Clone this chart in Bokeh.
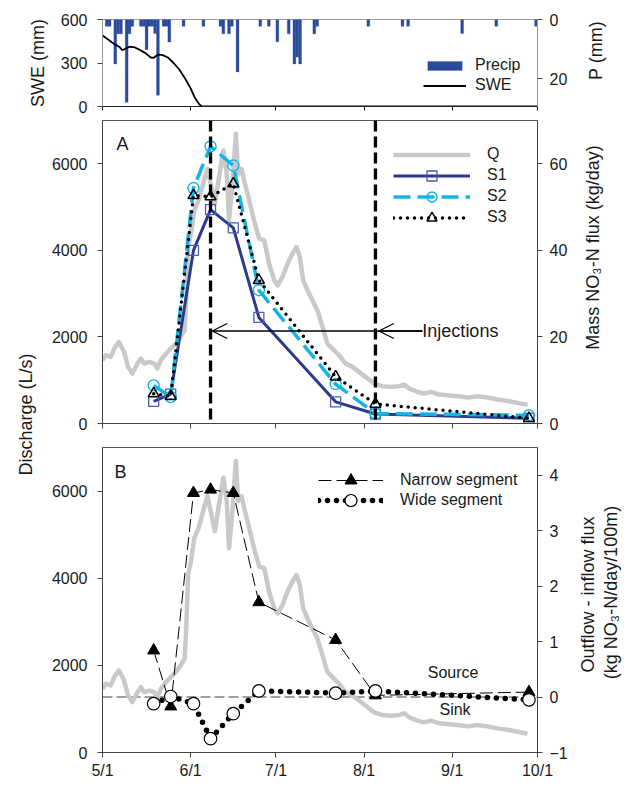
import math
from bokeh.plotting import figure
from bokeh.models import (Range1d, LinearAxis, FixedTicker, Span, Arrow, OpenHead,
                          Label, Legend, LegendItem)
from bokeh.layouts import column, row
from bokeh.embed import file_html
from bokeh.resources import INLINE

FONT = "Liberation Sans"
TXT = "#1a1a1a"

# ---------------- data ----------------
# x = days since May 1
month_ticks = [0, 31, 61, 92, 123, 153]
month_labels = ["5/1", "6/1", "7/1", "8/1", "9/1", "10/1"]

precip_day = [1, 2, 4, 5, 6, 8, 9, 10, 13, 14, 15, 16, 17, 18, 19, 21, 22, 23, 28, 35,
              41, 42, 44, 45, 47, 55, 58, 61, 65, 67, 68, 69, 74, 75, 93, 105, 107, 126, 138, 152]
precip_mm = [2.3, 2.3, 15.0, 4.8, 4.8, 28.0, 4.8, 2.3, 2.3, 2.3, 10.2, 2.3, 2.3, 4.7, 25.6, 2.3, 2.3, 7.6, 2.3, 2.3,
             2.3, 4.8, 4.8, 2.3, 17.7, 2.3, 2.3, 7.5, 4.8, 15.0, 12.7, 15.0, 4.8, 2.3, 2.3, 2.3, 2.3, 4.7, 2.3, 2.3]

swe_day = [0, 2, 4, 6, 7, 8, 9.5, 11, 13, 15, 17, 18, 19.5, 21, 23, 25, 27, 29, 31, 32.5, 34, 35, 153]
swe_mm = [490, 462, 432, 410, 388, 398, 412, 410, 392, 370, 338, 336, 358, 356, 338, 300, 255, 195, 125, 60, 15, 0, 0]

q_day = [0, 1.2, 2.9, 4.3, 5.8, 7.6, 9.0, 10.5, 12.3, 13.5, 14.6, 16.4, 18.2, 19.3, 20.5, 21.9, 24, 25.8,
         27.5, 28.9, 29.5, 30.1, 31.1, 32.3, 34.0, 35.7, 36.9, 38.3, 39.5, 41.0, 42.5, 43.7, 44.5, 45.7,
         46.9, 47.7, 48.9, 50.1, 51.6, 53.3, 55.1, 56.9, 58.6, 60.4, 61.6, 63.3, 65.1, 66.8, 68.2, 69.4,
         70.6, 72.1, 73.8, 75.6, 77.4, 79.1, 80.9, 83.2, 85.5, 87.9, 90.2, 92.5, 95.5, 98.4, 101.4, 104.3,
         106.1, 107.9, 110.8, 113.1, 115.5, 118.4, 121.3, 124.9, 128.4, 131.9, 135.4, 138.9, 142.4, 146.0, 149.5]
q_ls = [1461, 1577, 1538, 1754, 1884, 1653, 1307, 1154, 1385, 1500, 1385, 1422, 1385, 1269, 1461, 1577, 1731, 1846,
        2000, 2154, 2923, 4077, 4385, 4923, 5192, 5615, 5885, 5461, 5077, 5692, 6308, 5769, 4692, 5538,
        6692, 5769, 5885, 5538, 5154, 4692, 4269, 4231, 3692, 3308, 3192, 3385, 3692, 3923, 4077, 3846,
        3308, 3077, 2846, 2615, 2231, 1846, 1731, 1577, 1385, 1308, 1192, 1077, 923, 862, 846, 862,
        900, 808, 731, 692, 731, 669, 654, 631, 600, 631, 600, 554, 523, 477, 431]

sample_day = [18, 24, 32, 38, 46, 55, 82, 96, 150]
s1_flux = [5.1, 6.8, 40.0, 49.4, 45.2, 24.5, 5.0, 2.2, 1.2]
s2_flux = [8.8, 6.1, 54.4, 64.0, 59.6, 30.8, 9.1, 2.3, 1.9]
s3_flux = [6.9, 6.3, 52.7, 52.4, 55.4, 33.1, 10.8, 4.5, 1.2]
narrow_seg = [0.84, -0.17, 3.68, 3.74, 3.68, 1.71, 1.03, 0.03, 0.09]
wide_seg = [-0.12, 0.01, -0.12, -0.75, -0.30, 0.11, 0.07, 0.11, -0.05]
injection_day = [38, 96]

# ---------------- helpers ----------------
def style_axis(ax, show_labels=True, standoff=8, color="#444444"):
    ax.axis_line_color = color
    ax.major_tick_line_color = color
    ax.major_tick_out = 5
    ax.major_tick_in = 0
    ax.minor_tick_line_color = None
    ax.major_label_text_font = FONT
    if show_labels:
        ax.major_label_text_color = TXT
        ax.major_label_text_font_size = "16px"
        ax.major_label_standoff = standoff
    else:
        ax.major_label_text_color = None
        ax.major_label_text_alpha = 0
        ax.major_label_text_font_size = "1px"
        ax.major_label_standoff = 0
    ax.axis_label_text_font = FONT
    ax.axis_label_text_font_style = "normal"
    ax.axis_label_text_font_size = "18px"
    ax.axis_label_text_color = TXT


def screen_label(p, x, y, text, size="18px", angle=0.0, align="center"):
    p.add_layout(Label(x=x, y=y, x_units="screen", y_units="screen", text=text,
                       angle=angle, text_align=align, text_baseline="middle",
                       text_font=FONT, text_font_size=size, text_color=TXT))


def label_fig(w, top, fh, bottom):
    # a blank figure whose frame has the same vertical structure as its neighbour
    f = figure(frame_width=w, frame_height=fh, x_range=Range1d(0, 1), y_range=Range1d(0, 1),
               output_backend="svg", toolbar_location=None,
               min_border_left=0, min_border_right=0, min_border_top=top, min_border_bottom=bottom,
               x_axis_location=None, y_axis_location=None)
    f.outline_line_color = None
    f.xgrid.visible = False
    f.ygrid.visible = False
    return f


def one_legend(p, label, renderers, x, y, gw, gh, lh):
    p.add_layout(Legend(items=[LegendItem(label=label, renderers=renderers)],
                        location=(x, y), glyph_width=gw, glyph_height=gh, label_height=lh,
                        spacing=0, label_standoff=17, padding=0, margin=0,
                        border_line_color=None, background_fill_alpha=0,
                        label_text_font=FONT, label_text_font_size="16px",
                        label_text_color=TXT))


x_range = Range1d(0, 153)
RB = 36   # right border of the plot figures

# ---------------- top panel ----------------
p1 = figure(frame_width=435, frame_height=87, x_range=x_range, y_range=Range1d(0, 600),
            output_backend="svg", toolbar_location=None,
            min_border_left=102, min_border_right=RB, min_border_top=19, min_border_bottom=13)
p1.extra_y_ranges = {"p": Range1d(29.4, 0)}
p1.xgrid.visible = False
p1.ygrid.visible = False
p1.outline_line_color = "#999999"

bars = p1.vbar(x=[d + 0.5 for d in precip_day], width=1.0, bottom=0, top=precip_mm,
               y_range_name="p", fill_color="#2A4A9B", line_color="#2A4A9B", line_width=0.3)
swe = p1.line(swe_day, swe_mm, line_color="black", line_width=1.8)

ax = p1.xaxis[0]
ax.ticker = FixedTicker(ticks=month_ticks)
style_axis(ax, show_labels=False, color="#222222")
ax.major_tick_out = 4
ay = p1.yaxis[0]
ay.ticker = FixedTicker(ticks=[0, 300, 600])
style_axis(ay, standoff=10, color="#999999")
ay.major_tick_line_color = "#444444"
ay.axis_label = "SWE (mm)"
ay.axis_label_standoff = 10
ayr = LinearAxis(y_range_name="p", ticker=FixedTicker(ticks=[0, 20]))
style_axis(ayr, standoff=7, color="#999999")
ayr.major_tick_line_color = "#444444"
p1.add_layout(ayr, "right")

leg1 = Legend(items=[LegendItem(label="Precip", renderers=[bars]),
                     LegendItem(label="SWE", renderers=[swe])],
              location=(321, 11), glyph_width=43, glyph_height=11, label_height=20, spacing=0,
              label_standoff=9, padding=0, margin=0, border_line_color=None,
              background_fill_alpha=0, label_text_font=FONT, label_text_font_size="16px",
              label_text_color=TXT)
p1.add_layout(leg1)

pR1 = label_fig(50, 19, 87, 13)
screen_label(pR1, 22, 56, "P (mm)", angle=math.pi / 2)

# ---------------- panel A ----------------
pA = figure(frame_width=435, frame_height=303, x_range=x_range, y_range=Range1d(0, 7000),
            output_backend="svg", toolbar_location=None,
            min_border_left=54, min_border_right=RB, min_border_top=1, min_border_bottom=11)
pA.extra_y_ranges = {"flux": Range1d(0, 70)}
pA.xgrid.visible = False
pA.ygrid.visible = False
pA.outline_line_color = "#555555"

qA = pA.line(q_day, q_ls, line_color="#C9C9C9", line_width=4.5, line_join="round")
l1 = pA.line(sample_day, s1_flux, y_range_name="flux", line_color="#2B3A8C", line_width=3)
m1 = pA.scatter(sample_day, s1_flux, y_range_name="flux", marker="square", size=10,
                fill_color=None, line_color="#4B5DB0", line_width=1.3)
l2 = pA.line(sample_day, s2_flux, y_range_name="flux", line_color="#14B4E4", line_width=3.5,
             line_dash="17 7")
m2 = pA.scatter(sample_day, s2_flux, y_range_name="flux", marker="circle", size=11,
                fill_color=None, line_color="#14B4E4", line_width=1.4)
l3 = pA.line(sample_day, s3_flux, y_range_name="flux", line_color="black", line_width=3.5,
             line_dash="0 7", line_cap="round")
m3 = pA.scatter(sample_day, s3_flux, y_range_name="flux", marker="triangle", size=11,
                fill_color=None, line_color="black", line_width=1.5)

for d in injection_day:
    pA.add_layout(Span(location=d, dimension="height", line_color="black", line_width=3.3,
                       line_dash="11 5"))

pA.add_layout(Arrow(end=OpenHead(size=15, line_width=1.3, line_color="black"),
                    x_start=112.5, y_start=2137, x_end=38.6, y_end=2137,
                    line_color="black", line_width=1.3))
pA.add_layout(Arrow(end=OpenHead(size=15, line_width=1.3, line_color="black"),
                    x_start=112.5, y_start=2137, x_end=97.2, y_end=2137,
                    line_color="black", line_width=1.3))
pA.add_layout(Label(x=112.5, y=2137, text="Injections", text_align="left", text_baseline="middle",
                    text_font=FONT, text_font_size="18px", text_color=TXT))

ax = pA.xaxis[0]
ax.ticker = FixedTicker(ticks=month_ticks)
style_axis(ax, show_labels=False)
ay = pA.yaxis[0]
ay.ticker = FixedTicker(ticks=[0, 2000, 4000, 6000])
style_axis(ay, standoff=10)
ayr = LinearAxis(y_range_name="flux", ticker=FixedTicker(ticks=[0, 20, 40, 60]))
style_axis(ayr, standoff=7)
pA.add_layout(ayr, "right")
screen_label(pA, 20, 280, "A", size="18px")

one_legend(pA, "Q", [qA], 291, 256.5, 77, 25, 21)
one_legend(pA, "S1", [l1, m1], 291, 235.5, 77, 25, 21)
one_legend(pA, "S2", [l2, m2], 291, 214.5, 77, 25, 21)
one_legend(pA, "S3", [l3, m3], 291, 193.5, 77, 25, 21)

pRA = label_fig(50, 1, 303, 11)
screen_label(pRA, 19, 176, "Mass NO\u2083-N flux (kg/day)", size="18px", angle=math.pi / 2)

# ---------------- panel B ----------------
pB = figure(frame_width=435, frame_height=305, x_range=x_range, y_range=Range1d(0, 7000),
            output_backend="svg", toolbar_location=None,
            min_border_left=54, min_border_right=RB, min_border_top=13, min_border_bottom=27)
pB.extra_y_ranges = {"nb": Range1d(-1, 4.5)}
pB.xgrid.visible = False
pB.ygrid.visible = False
pB.outline_line_color = "#555555"

pB.line(q_day, q_ls, line_color="#C9C9C9", line_width=4.5, line_join="round")
pB.add_layout(Span(location=0, dimension="width", y_range_name="nb", line_color="#808080",
                   line_width=1.5, line_dash="10 4", level="underlay"))
ln = pB.line(sample_day, narrow_seg, y_range_name="nb", line_color="black", line_width=1,
             line_dash="13 5")
mn = pB.scatter(sample_day, narrow_seg, y_range_name="nb", marker="triangle", size=12,
                fill_color="black", line_color="black")
lw = pB.line(sample_day, wide_seg, y_range_name="nb", line_color="black", line_width=5.5,
             line_dash="0 9", line_cap="round")
mw = pB.scatter(sample_day, wide_seg, y_range_name="nb", marker="circle", size=12.5,
                fill_color="white", line_color="black", line_width=1.2)

pB.add_layout(Label(x=123.3, y=0.45, y_range_name="nb", text="Source", text_align="center",
                    text_baseline="middle", text_font=FONT, text_font_size="16px", text_color=TXT))
pB.add_layout(Label(x=124, y=-0.23, y_range_name="nb", text="Sink", text_align="center",
                    text_baseline="middle", text_font=FONT, text_font_size="16px", text_color=TXT))

ax = pB.xaxis[0]
ax.ticker = FixedTicker(ticks=month_ticks)
ax.major_label_overrides = dict(zip(month_ticks, month_labels))
style_axis(ax, standoff=4)
ay = pB.yaxis[0]
ay.ticker = FixedTicker(ticks=[0, 2000, 4000, 6000])
style_axis(ay, standoff=10)
ayr = LinearAxis(y_range_name="nb", ticker=FixedTicker(ticks=[-1, 0, 1, 2, 3, 4]))
style_axis(ayr, standoff=7)
pB.add_layout(ayr, "right")
screen_label(pB, 18, 281, "B", size="18px")

one_legend(pB, "Narrow segment", [ln, mn], 216, 257, 65, 30, 20)
one_legend(pB, "Wide segment", [lw, mw], 216, 237, 65, 30, 20)

pRB = label_fig(50, 13, 305, 27)
screen_label(pRB, 14, 158, "Outflow - inflow flux", size="18px", angle=math.pi / 2)
screen_label(pRB, 37, 160, "(kg NO\u2083-N/day/100m)", size="18px", angle=math.pi / 2)

# ---------------- shared left label ----------------
pL = label_fig(48, 1, 632, 27)
screen_label(pL, 25, 338, "Discharge (L/s)", size="18px", angle=math.pi / 2)

layout = column(row(p1, pR1),
                row(pL, column(pA, pB), column(pRA, pRB)))

open("out.html", "w").write(file_html(layout, INLINE))
